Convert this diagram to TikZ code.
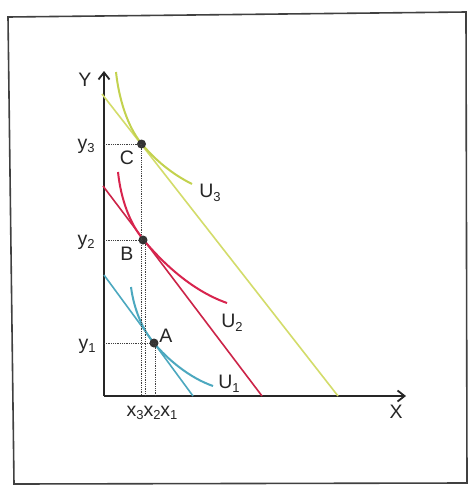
\documentclass[tikz,border=0pt]{standalone}
\usepackage{fontspec}
\setmainfont{Liberation Sans}
\usetikzlibrary{arrows.meta}
\newcommand{\sbs}[1]{\raisebox{-0.35ex}{\fontsize{13}{13}\selectfont #1}}
\definecolor{cgreen}{HTML}{C3D24E}
\definecolor{cgreenl}{HTML}{D3DC6A}
\definecolor{cred}{HTML}{D8244E}
\definecolor{credl}{HTML}{CC2448}
\definecolor{cblue}{HTML}{4CA8BF}
\definecolor{cdot}{HTML}{333333}
\tikzset{
  lbl/.style={font=\fontsize{19.5}{19.5}\selectfont, inner sep=0pt, text=black!85},
  axis/.style={line width=2pt, draw=black!85, -{Straight Barb[length=7pt,width=11pt,line width=1.8pt]}},
  guide/.style={densely dotted, line width=0.8pt, draw=black!75},
  dotnode/.style={circle, fill=cdot, inner sep=0pt, minimum size=9pt},
  curve/.style={line width=2pt},
  budget/.style={line width=1.6pt}
}
\begin{document}
\begin{tikzpicture}[x=1pt,y=-1pt]
\useasboundingbox (0,0) rectangle (470,485);
\fill[white] (0,0) rectangle (470,485);
% frame
\draw[line width=1.6pt, draw=black!75] (8,17) -- (466,12) -- (467,483) -- (14,484) -- cycle;
% axes
\coordinate (O) at (104,396);
\coordinate (Ytop) at (104,71);
\coordinate (Xend) at (406,396);
\draw[axis] (O) -- (Ytop);
\draw[axis] (O) -- (Xend);
\node[lbl] (Ylab) at (85,80) {Y};
\node[lbl] (Xlab) at (396,412) {X};
% budget lines
\coordinate (g1) at (102,94);  \coordinate (g2) at (338,396);
\coordinate (r1) at (103,186); \coordinate (r2) at (262,396);
\coordinate (b1) at (104,275); \coordinate (b2) at (193,396);
\draw[budget, cgreenl] (g1) -- (g2);
\draw[budget, credl] (r1) -- (r2);
\draw[budget, cblue] (b1) -- (b2);
% indifference curves
\draw[curve, cgreen] (116,72) .. controls (119,100) and (128,127) .. (141,143) .. controls (155,160) and (172,174) .. (192,184);
\draw[curve, cred] (118,172) .. controls (121,200) and (130,223) .. (142,238) .. controls (160,260) and (190,290) .. (227,303);
\draw[curve, cblue] (131,287) .. controls (134,310) and (143,330) .. (153,342) .. controls (168,360) and (190,378) .. (213,386);
% points
\node[dotnode] (C) at (141.5,144) {};
\node[dotnode] (B) at (143,240) {};
\node[dotnode] (A) at (154,343) {};
% guides
\coordinate (yc) at (104,144); \coordinate (xc) at (141,396);
\coordinate (yb) at (104,240); \coordinate (xb) at (145,396);
\coordinate (ya) at (104,343); \coordinate (xa) at (155.5,396);
\draw[guide] (yc) -- (C.center);
\draw[guide] (141,144) -- (xc);
\draw[guide] (yb) -- (B.center);
\draw[guide] (145,240) -- (xb);
\draw[guide] (ya) -- (A.center);
\draw[guide] (155.5,343) -- (xa);
% labels
\node[lbl] (y3) at (86,146) {y\sbs{3}};
\node[lbl] (y2) at (86,242) {y\sbs{2}};
\node[lbl] (y1) at (87,346) {y\sbs{1}};
\node[lbl] (Cl) at (127,158) {C};
\node[lbl] (Bl) at (127,254) {B};
\node[lbl] (Al) at (166,336) {A};
\node[lbl] (U3) at (210,193) {U\sbs{3}};
\node[lbl] (U2) at (232,323) {U\sbs{2}};
\node[lbl] (U1) at (229,384) {U\sbs{1}};
\node[lbl] (xs) at (152,413) {x\sbs{3}x\sbs{2}x\sbs{1}};
\end{tikzpicture}
\end{document}
